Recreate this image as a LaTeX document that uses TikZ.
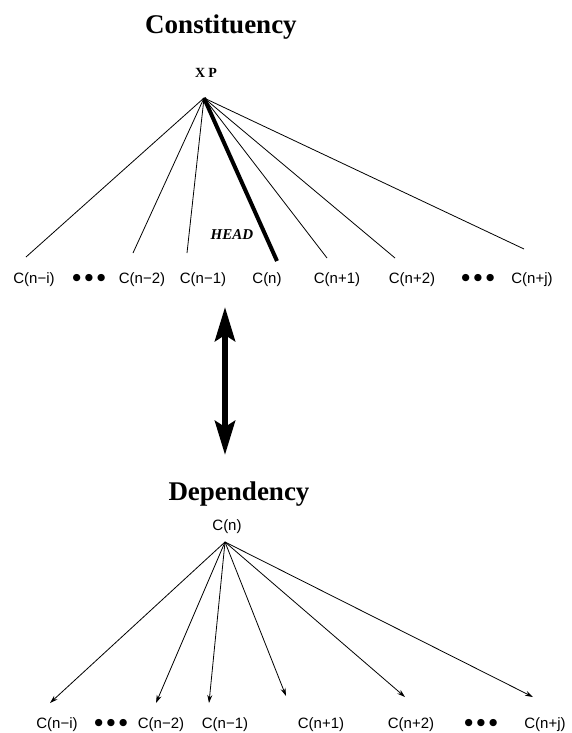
\documentclass[tikz,border=0pt]{standalone}
\usepackage{fontspec}
\setmainfont{Liberation Serif}
\newfontfamily\labfont{Liberation Sans}
\newfontfamily\dotfont{DejaVu Sans}
\usetikzlibrary{arrows.meta}
\begin{document}
\begin{tikzpicture}[x=1pt,y=-1pt,
  title/.style={font=\fontsize{27}{27}\selectfont\bfseries, anchor=base, inner sep=0pt},
  leaf/.style={font=\labfont\fontsize{15}{15}\selectfont, anchor=base, inner sep=0pt},
  dotsn/.style={font=\dotfont\fontsize{9.5}{9.5}\selectfont, inner sep=0pt},
  branch/.style={line width=0.8pt},
  headbranch/.style={line width=4pt},
  dep/.style={line width=0.8pt, -{Stealth[length=8pt,width=5pt]}},
  bigarrow/.style={line width=6pt, {Stealth[length=34pt,width=20pt,inset=6pt]}-{Stealth[length=34pt,width=20pt,inset=6pt]}}]
\useasboundingbox (0,0) rectangle (571,733);

% ---------- Constituency ----------
\node[title] (ctitle) at (221,34) {Constituency};
\node[font=\fontsize{14}{14}\selectfont\bfseries, anchor=base, inner sep=0pt] (xp) at (206,78) {X\kern3ptP};
\coordinate (apex) at (204,98);
\coordinate (e1) at (26,257);
\coordinate (e2) at (133,253);
\coordinate (e3) at (187,253);
\coordinate (e4) at (277,261);
\coordinate (e5) at (327,258);
\coordinate (e6) at (395,258);
\coordinate (e7) at (524,249);

\draw[branch] (apex) -- (e1);
\draw[branch] (apex) -- (e2);
\draw[branch] (apex) -- (e3);
\draw[headbranch] (apex) -- (e4);
\draw[branch] (apex) -- (e5);
\draw[branch] (apex) -- (e6);
\draw[branch] (apex) -- (e7);

\node[font=\fontsize{15}{15}\selectfont\bfseries\itshape, inner sep=0pt] (head) at (232,235) {HEAD};

\node[leaf] (t1) at (34,283) {C(n−i)};
\node[dotsn] (td1) at (89,278) {●\hspace{4pt}●\hspace{4pt}●};
\node[leaf] (t2) at (142,283) {C(n−2)};
\node[leaf] (t3) at (203,283) {C(n−1)};
\node[leaf] (t4) at (267,283) {C(n)};
\node[leaf] (t5) at (337,283) {C(n+1)};
\node[leaf] (t6) at (412,283) {C(n+2)};
\node[dotsn] (td2) at (478,278) {●\hspace{4pt}●\hspace{4pt}●};
\node[leaf] (t7) at (532,283) {C(n+j)};

% ---------- double arrow ----------
\coordinate (ua) at (225,307);
\coordinate (da) at (225,455);
\draw[bigarrow] (ua) -- (da);

% ---------- Dependency ----------
\node[title] (dtitle) at (239,500) {Dependency};
\node[leaf] (root) at (227,530) {C(n)};
\coordinate (dapex) at (225,542);
\coordinate (f1) at (50,703);
\coordinate (f2) at (156,703);
\coordinate (f3) at (209,703);
\coordinate (f4) at (286,696);
\coordinate (f5) at (405,697);
\coordinate (f6) at (533,697);

\draw[dep] (dapex) -- (f1);
\draw[dep] (dapex) -- (f2);
\draw[dep] (dapex) -- (f3);
\draw[dep] (dapex) -- (f4);
\draw[dep] (dapex) -- (f5);
\draw[dep] (dapex) -- (f6);

\node[leaf] (b1) at (57,728) {C(n−i)};
\node[dotsn] (bd1) at (111,723) {●\hspace{4pt}●\hspace{4pt}●};
\node[leaf] (b2) at (161,728) {C(n−2)};
\node[leaf] (b3) at (225,728) {C(n−1)};
\node[leaf] (b5) at (321,728) {C(n+1)};
\node[leaf] (b6) at (411,728) {C(n+2)};
\node[dotsn] (bd2) at (481,723) {●\hspace{4pt}●\hspace{4pt}●};
\node[leaf] (b7) at (545,728) {C(n+j)};
\end{tikzpicture}
\end{document}
